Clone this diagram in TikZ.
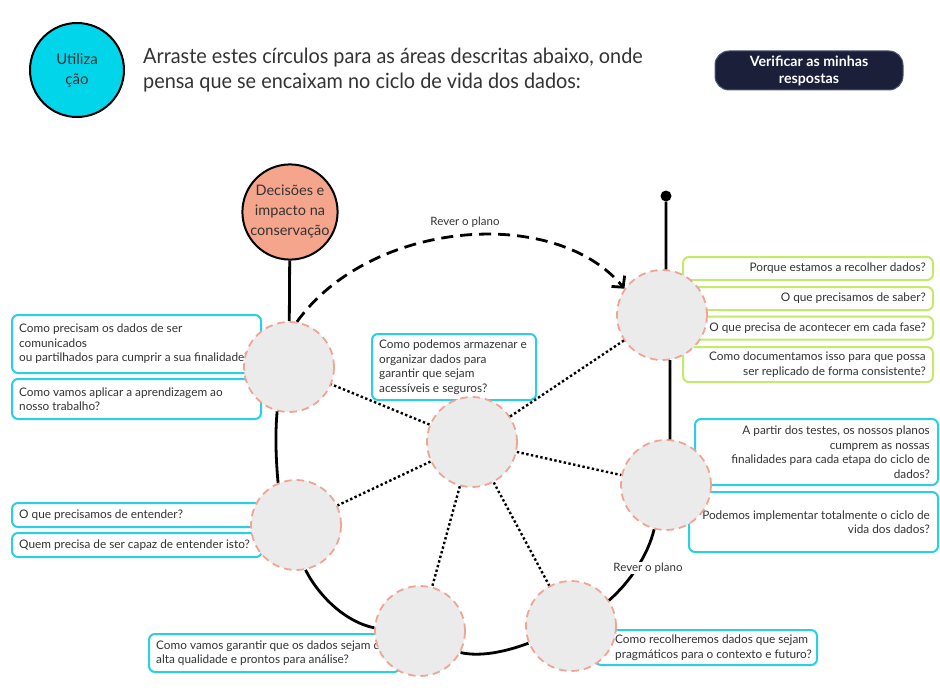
\documentclass[tikz,border=0pt]{standalone}
\usepackage{fontspec}
\setmainfont{Lato}
\newfontfamily\titlefont[FakeStretch=0.945]{Lato}
\usetikzlibrary{arrows.meta}
\definecolor{txt}{HTML}{333333}
\definecolor{bcyan}{HTML}{2ACFE3}
\definecolor{blime}{HTML}{C5EA6B}
\definecolor{utcyan}{HTML}{00D5EA}
\definecolor{salmon}{HTML}{F5A58C}
\definecolor{gfill}{HTML}{EBEBEB}
\definecolor{dashc}{HTML}{F0A594}
\definecolor{navy}{HTML}{1B1F3A}
\definecolor{navyb}{HTML}{4A5878}
\begin{document}
\begin{tikzpicture}[x=1pt,y=-1pt,
  qbox/.style={draw=bcyan, line width=2pt, rounded corners=6pt, fill=white, inner sep=0pt},
  lbox/.style={qbox, draw=blime},
  qtext/.style={inner sep=0pt, font=\fontsize{11.8}{14.5}\selectfont, text=txt},
  gc/.style={circle, minimum size=90pt, inner sep=0pt, fill=gfill, draw=dashc, line width=1.8pt, dash pattern=on 7.5pt off 5pt},
  loopline/.style={line width=2.8pt, black},
  dotline/.style={line width=2.4pt, dash pattern=on 2.4pt off 2.4pt},
  dasharc/.style={line width=2.8pt, dash pattern=on 12pt off 7pt, -{Straight Barb[length=8pt,width=17pt,line width=2.8pt]}},
  rever/.style={font=\fontsize{11.5}{13}\selectfont, text=txt, inner sep=1pt}
]
\useasboundingbox[fill=white] (0,0) rectangle (940,693);

% header
\node[circle, minimum size=94pt, inner sep=0pt, fill=utcyan, draw=black, line width=2pt, align=center,
  font=\fontsize{15}{20}\selectfont, text=txt] (util) at (77,70) {Utiliza\\ção};
\node[anchor=west, align=left, inner sep=0pt, text=txt, font=\titlefont\fontsize{21}{25}\selectfont] (title) at (143,70.5)
  {Arraste estes círculos para as áreas descritas abaixo, onde\\pensa que se encaixam no ciclo de vida dos dados:};
\node[fill=navy, draw=navyb, line width=1pt, rounded corners=14pt, minimum width=188pt, minimum height=39pt,
  align=center, text=white, font=\bfseries\fontsize{14.2}{17}\selectfont, inner sep=0pt] (btn) at (809,70.5)
  {Verificar as minhas\\respostas};

% boxes
\node[qbox, minimum width=249pt, minimum height=58pt] (l1) at (136.5,344) {};
\node[qtext, anchor=west, align=left] (l1t) at (19,344) {Como precisam os dados de ser\\comunicados\\ou partilhados para cumprir a sua finalidade?};
\node[qbox, minimum width=249pt, minimum height=40pt] (l2) at (136.5,399) {};
\node[qtext, anchor=west, align=left] (l2t) at (19,399) {Como vamos aplicar a aprendizagem ao\\nosso trabalho?};
\node[qbox, minimum width=250pt, minimum height=24pt] (l3) at (137,515) {};
\node[qtext, anchor=west, align=left] (l3t) at (19,515) {O que precisamos de entender?};
\node[qbox, minimum width=250pt, minimum height=24pt] (l4) at (137,545) {};
\node[qtext, anchor=west, align=left] (l4t) at (19,545) {Quem precisa de ser capaz de entender isto?};
\node[qbox, minimum width=164pt, minimum height=66pt] (cb) at (454,367) {};
\node[qtext, anchor=west, align=left] (cbt) at (379,367) {Como podemos armazenar e\\organizar dados para\\garantir que sejam\\acessíveis e seguros?};
\node[qbox, minimum width=251pt, minimum height=38pt] (b1) at (274.5,653) {};
\node[qtext, anchor=west, align=left] (b1t) at (156,653) {Como vamos garantir que os dados sejam de\\alta qualidade e prontos para análise?};
\node[qbox, minimum width=222pt, minimum height=35pt] (b2) at (706,647.5) {};
\node[qtext, anchor=west, align=left] (b2t) at (615,647.5) {Como recolheremos dados que sejam\\pragmáticos para o contexto e futuro?};
\node[lbox, minimum width=250pt, minimum height=23pt] (r1) at (808,268.5) {};
\node[qtext, anchor=east, align=right] (r1t) at (926,268.5) {Porque estamos a recolher dados?};
\node[lbox, minimum width=250pt, minimum height=23pt] (r2) at (808,298.5) {};
\node[qtext, anchor=east, align=right] (r2t) at (926,298.5) {O que precisamos de saber?};
\node[lbox, minimum width=250pt, minimum height=23pt] (r3) at (808,328) {};
\node[qtext, anchor=east, align=right] (r3t) at (926,328) {O que precisa de acontecer em cada fase?};
\node[lbox, minimum width=250pt, minimum height=35pt] (r4) at (808,364.5) {};
\node[qtext, anchor=east, align=right] (r4t) at (926,364.5) {Como documentamos isso para que possa\\ser replicado de forma consistente?};
\node[qbox, minimum width=243pt, minimum height=66pt] (rc1) at (816.5,452) {};
\node[qtext, anchor=east, align=right] (rc1t) at (930,452) {A partir dos testes, os nossos planos\\cumprem as nossas\\finalidades para cada etapa do ciclo de\\dados?};
\node[qbox, minimum width=249pt, minimum height=60pt] (rc2) at (813.5,522) {};
\node[qtext, anchor=east, align=right] (rc2t) at (930,522) {Podemos implementar totalmente o ciclo de\\vida dos dados?};

% circles
\node[circle, minimum size=94pt, inner sep=0pt, fill=salmon, draw=black, line width=2pt, align=center,
  font=\fontsize{14.5}{20}\selectfont, text=txt] (dec) at (290,212) {Decisões e\\impacto na\\conservação};
\node[gc] (c1) at (289,367) {};
\node[gc] (cc) at (472,442) {};
\node[gc] (ctr) at (662,315) {};
\node[gc] (cright) at (666,485) {};
\node[gc] (cll) at (296,525) {};
\node[gc] (cbl) at (420,631) {};
\node[gc] (cbr) at (571,626) {};
\node[circle, fill=black, minimum size=11pt, inner sep=0pt] (dot) at (666,196) {};

% life-cycle loop
\draw[loopline] (dec) -- (c1);
\draw[loopline] (c1.255) .. controls (275,435) and (276,460) .. (cll.113);
\draw[loopline] (cll.282) .. controls (318,595) and (345,622) .. (cbl.176);
\draw[loopline] (cbl.332) .. controls (480,657) and (505,652) .. (cbr.202);
\draw[loopline] (cbr.34) .. controls (630,582) and (648,555) .. (cright.255);
\draw[loopline] (cright.85) -- (ctr.280);
\draw[loopline] (ctr.85) -- (dot);

% dotted spokes
\draw[dotline] (cc) -- (c1);
\draw[dotline] (cc) -- (ctr);
\draw[dotline] (cc) -- (cright);
\draw[dotline] (cc) -- (cll);
\draw[dotline] (cc) -- (cbl);
\draw[dotline] (cc) -- (cbr);

% review arc
\draw[dasharc] (c1.80) .. controls (370,220) and (555,205) .. (ctr.145);
\node[rever] (rv1) at (465,222) {Rever o plano};
\node[rever, fill=white] (rv2) at (648,568) {Rever o plano};
\end{tikzpicture}
\end{document}
